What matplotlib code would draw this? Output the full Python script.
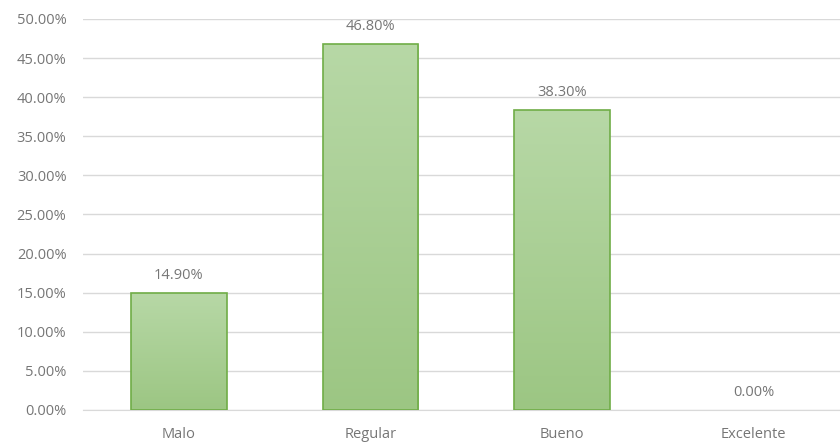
import numpy as np
import matplotlib.pyplot as plt
from matplotlib.colors import LinearSegmentedColormap
from matplotlib.ticker import FuncFormatter

categories = ['Malo', 'Regular', 'Bueno', 'Excelente']
values = [14.90, 46.80, 38.30, 0.00]
yticks = [0, 5, 10, 15, 20, 25, 30, 35, 40, 45, 50]

plt.rcParams['font.family'] = ['Open Sans', 'DejaVu Sans']
text_color = '#767676'
grid_color = '#d9d9d9'
fs = 10.5

fig = plt.figure(figsize=(8.4, 4.45), dpi=100)
ax = fig.add_axes([0.099, 0.0787, 0.901, 0.8787])

x = np.arange(len(categories))
width = 0.5
ax.set_xlim(-0.5, 3.452)
ax.set_ylim(0, 50)

# vertical gradient for each bar: light at top, darker at bottom
cmap = LinearSegmentedColormap.from_list('greens', ['#9cc683', '#b7d8a6'])
grad = np.linspace(0, 1, 256).reshape(-1, 1)
bars = ax.bar(x, values, width, color='none', edgecolor='#70ad47', linewidth=1.2, zorder=3)
for b, v in zip(bars, values):
    if v <= 0:
        b.set_linewidth(0)
        continue
    x0, w = b.get_x(), b.get_width()
    im = ax.imshow(grad, extent=[x0, x0 + w, 0, v], origin='lower', aspect='auto',
                   cmap=cmap, zorder=2)
    im.set_clip_path(b)

for xi, v in zip(x, values):
    ax.text(xi, v + 1.3, f'{v:.2f}%', ha='center', va='bottom', fontsize=fs, color=text_color)

ax.set_yticks(yticks)
ax.yaxis.set_major_formatter(FuncFormatter(lambda v, p: f'{v:.2f}%'))
ax.set_xticks(x)
ax.set_xticklabels(categories)
ax.tick_params(axis='both', length=0, labelsize=fs, labelcolor=text_color)
ax.tick_params(axis='x', pad=12)
ax.tick_params(axis='y', pad=12)
ax.yaxis.grid(True, color=grid_color, linewidth=1)
ax.set_axisbelow(True)
for s in ['top', 'right', 'left']:
    ax.spines[s].set_visible(False)
ax.spines['bottom'].set_color(grid_color)

fig.savefig('out.png', dpi=100)
